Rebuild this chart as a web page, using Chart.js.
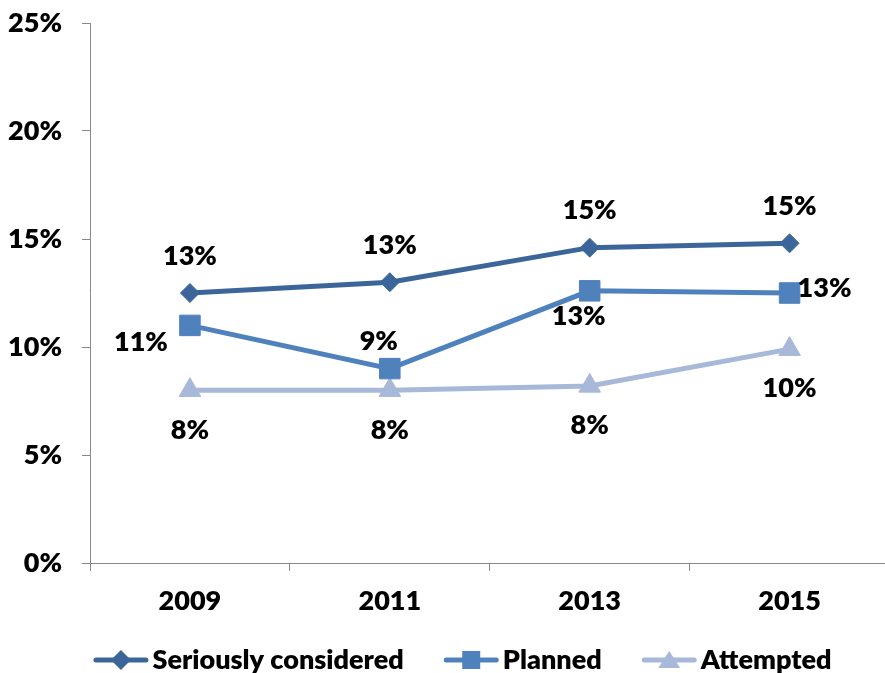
<!DOCTYPE html>
<html><head><meta charset="utf-8">
<script src="https://cdn.jsdelivr.net/npm/chart.js@4.4.0/dist/chart.umd.min.js"></script>
<style>
html,body{margin:0;padding:0;background:#fff;overflow:hidden;}
#wrap{position:relative;width:905px;height:673px;}
</style></head><body>
<div id="wrap"><canvas id="c"></canvas></div>
<script>
// ---- data ----
const years = ['2009', '2011', '2013', '2015'];
const seriouslyConsidered = [12.5, 13.0, 14.6, 14.8];
const planned = [11.0, 9.0, 12.6, 12.5];
const attempted = [8.0, 8.0, 8.2, 9.9];
const yTicks = [0, 5, 10, 15, 20, 25];
const seriesNames = ['Seriously considered', 'Planned', 'Attempted'];

// ---- styling ----
const FONT = 'Lato';
const FSIZE = 27;
const WEIGHT = '800';
const colors = ['#3C6699', '#4F81BD', '#A8B8D8'];
const markerStyles = ['diamond', 'square', 'triangle'];
const axisColor = '#888888';
// label offsets (px) relative to each point
const labelOffsets = [
  [[0, -37], [0, -37], [0, -37], [0, -37]],
  [[-49, 17], [-11, -27], [-11, 25], [35, -5]],
  [[0, 40], [0, 40], [0, 39], [0, 39]]
];

function drawMarker(ctx, style, x, y, color) {
  ctx.fillStyle = color;
  ctx.beginPath();
  if (style === 'diamond') {
    ctx.moveTo(x, y - 10); ctx.lineTo(x + 10, y); ctx.lineTo(x, y + 10); ctx.lineTo(x - 10, y);
  } else if (style === 'square') {
    ctx.rect(x - 9, y - 9, 18, 18);
  } else {
    ctx.moveTo(x, y - 9); ctx.lineTo(x + 11, y + 8); ctx.lineTo(x - 11, y + 8);
  }
  ctx.closePath();
  ctx.fill();
}

const pctLabels = {
  id: 'pctLabels',
  afterDatasetsDraw(chart) {
    const ctx = chart.ctx;
    ctx.save();
    ctx.font = WEIGHT + ' ' + FSIZE + 'px ' + FONT;
    ctx.fillStyle = '#000';
    ctx.textAlign = 'center';
    ctx.textBaseline = 'middle';
    chart.data.datasets.forEach((ds, di) => {
      const meta = chart.getDatasetMeta(di);
      meta.data.forEach((pt, i) => {
        const off = labelOffsets[di][i];
        ctx.fillText(Math.round(ds.data[i]) + '%', pt.x + off[0], pt.y + off[1]);
      });
    });
    ctx.restore();
  }
};

// legend drawn below the x axis
const lineLegend = {
  id: 'lineLegend',
  afterDraw(chart) {
    const ctx = chart.ctx;
    ctx.save();
    ctx.font = WEIGHT + ' ' + FSIZE + 'px ' + FONT;
    ctx.textBaseline = 'middle';
    ctx.textAlign = 'left';
    const iconW = 55, gapIcon = 4, gapItem = 40;
    const items = chart.data.datasets.map((ds, i) => ({
      text: ds.label, color: ds.borderColor, style: markerStyles[i],
      w: ctx.measureText(ds.label).width
    }));
    const total = items.reduce((s, it) => s + iconW + gapIcon + it.w, 0) + gapItem * (items.length - 1);
    let x = chart.width / 2 + 10 - total / 2;
    const y = 660;
    items.forEach(it => {
      ctx.strokeStyle = it.color; ctx.lineWidth = 5; ctx.lineCap = 'round';
      ctx.beginPath(); ctx.moveTo(x + 2.5, y); ctx.lineTo(x + iconW - 2.5, y); ctx.stroke();
      drawMarker(ctx, it.style, x + iconW / 2, y, it.color);
      ctx.fillStyle = '#000';
      ctx.fillText(it.text, x + iconW + gapIcon, y);
      x += iconW + gapIcon + it.w + gapItem;
    });
    ctx.restore();
  }
};

const tickFont = {family: FONT, size: FSIZE, weight: WEIGHT};

new Chart(document.getElementById('c'), {
  type: 'line',
  data: {
    labels: years,
    datasets: [
      {label: seriesNames[0], data: seriouslyConsidered, borderColor: colors[0], backgroundColor: colors[0],
       borderWidth: 5, pointStyle: 'rectRot', pointRadius: 9.5, pointBorderWidth: 1, pointBorderColor: colors[0], pointBackgroundColor: colors[0]},
      {label: seriesNames[1], data: planned, borderColor: colors[1], backgroundColor: colors[1],
       borderWidth: 5, pointStyle: 'rect', pointRadius: 14.5, pointBorderWidth: 1, pointBorderColor: colors[1], pointBackgroundColor: colors[1]},
      {label: seriesNames[2], data: attempted, borderColor: colors[2], backgroundColor: colors[2],
       borderWidth: 5, pointStyle: 'triangle', pointRadius: 12.5, pointBorderWidth: 1, pointBorderColor: colors[2], pointBackgroundColor: colors[2]}
    ]
  },
  options: {
    responsive: true,
    maintainAspectRatio: false,
    animation: false,
    layout: {padding: {left: 0, right: 9, top: 23, bottom: 50}},
    plugins: {
      tooltip: {enabled: false},
      legend: {display: false}
    },
    scales: {
      x: {
        type: 'category',
        offset: true,
        grid: {offset: true, drawOnChartArea: false, drawTicks: true, tickLength: 8, color: axisColor},
        border: {color: axisColor, width: 1},
        ticks: {font: tickFont, color: '#000', padding: 14, maxRotation: 0},
        afterFit(scale) { scale.height = 60; scale.paddingLeft = 0; scale.paddingRight = 0; }
      },
      y: {
        min: 0, max: 25,
        grid: {drawOnChartArea: false, drawTicks: true, tickLength: 8, color: axisColor},
        border: {color: axisColor, width: 1},
        ticks: {font: tickFont, color: '#000', padding: 20, callback: v => v + '%'},
        afterBuildTicks(scale) { scale.ticks = yTicks.map(v => ({value: v})); },
        afterFit(scale) { scale.width = 90; scale.paddingTop = 0; scale.paddingBottom = 0; }
      }
    }
  },
  plugins: [pctLabels, lineLegend]
});
</script>
</body></html>
